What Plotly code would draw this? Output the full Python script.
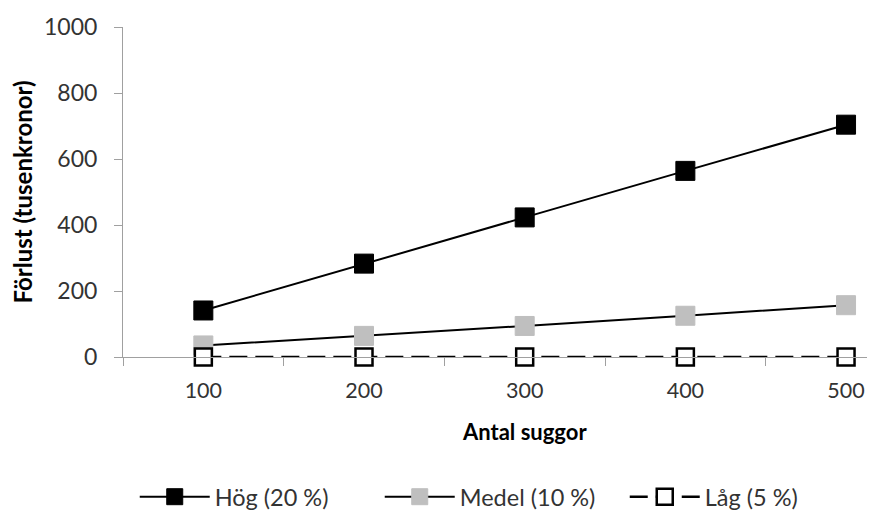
import plotly.graph_objects as go

categories = ["100", "200", "300", "400", "500"]
hog = [141, 283, 423, 564, 704]
medel = [35, 64, 94, 125, 157]
lag = [0, 0, 0, 0, 0]
names = ["Hög (20 %)", "Medel (10 %)", "Låg (5 %)"]
y_ticks = [0, 200, 400, 600, 800, 1000]

FONT = "Lato"
AX = "#a0a0a0"
TXT = "#333333"

fig = go.Figure()
fig.add_trace(go.Scatter(
    x=categories, y=hog, name=names[0], mode="lines+markers", cliponaxis=False,
    line=dict(color="black", width=2),
    marker=dict(symbol="square", size=19, color="black",
                line=dict(color="black", width=1)),
))
fig.add_trace(go.Scatter(
    x=categories, y=medel, name=names[1], mode="lines+markers", cliponaxis=False,
    line=dict(color="black", width=2),
    marker=dict(symbol="square", size=19, color="#bfbfbf",
                line=dict(color="#bfbfbf", width=1)),
))
fig.add_trace(go.Scatter(
    x=categories, y=lag, name=names[2], mode="lines+markers", cliponaxis=False,
    line=dict(color="black", width=2.5, dash="18px,8px"),
    marker=dict(symbol="square", size=17, color="white",
                line=dict(color="black", width=2.5)),
))

# the page body has an 8px margin, so the figure is offset by 8px
fig.update_layout(
    width=875, height=508,
    margin=dict(l=115, r=0, t=19, b=159, autoexpand=False),
    paper_bgcolor="white", plot_bgcolor="white",
    font=dict(family=FONT, size=22, color=TXT),
    showlegend=True,
    legend=dict(orientation="h", x=0.499, xanchor="center", y=-0.424,
                yanchor="middle", font=dict(family=FONT, size=23.5, color=TXT),
                itemwidth=70, entrywidthmode="pixels", entrywidth=160,
                tracegroupgap=0),
    xaxis=dict(
        type="category", range=[-0.5, 4.23], automargin=False,
        tickson="boundaries", ticks="outside", ticklen=8, tickcolor=AX,
        showline=True, linecolor=AX, linewidth=1, showgrid=False,
        zeroline=False, ticklabelstandoff=14,
        tickfont=dict(family=FONT, size=21.5, color=TXT),
    ),
    yaxis=dict(
        range=[0, 1000], tickvals=y_ticks, ticks="outside", ticklen=8,
        automargin=False,
        tickcolor=AX, showline=True, linecolor=AX, linewidth=1,
        showgrid=False, zeroline=False, ticklabelstandoff=12,
        tickfont=dict(family=FONT, size=23, color=TXT),
        title=dict(text="<b>Förlust (tusenkronor)</b>", standoff=4,
                   font=dict(family=FONT, size=24, color="black")),
    ),
)

fig.add_annotation(
    text="<b>Antal suggor</b>", xref="x", yref="paper", x=2, y=-0.227,
    xanchor="center", yanchor="middle", showarrow=False,
    font=dict(family=FONT, size=22, color="black"),
)

fig.write_html("out.html")
